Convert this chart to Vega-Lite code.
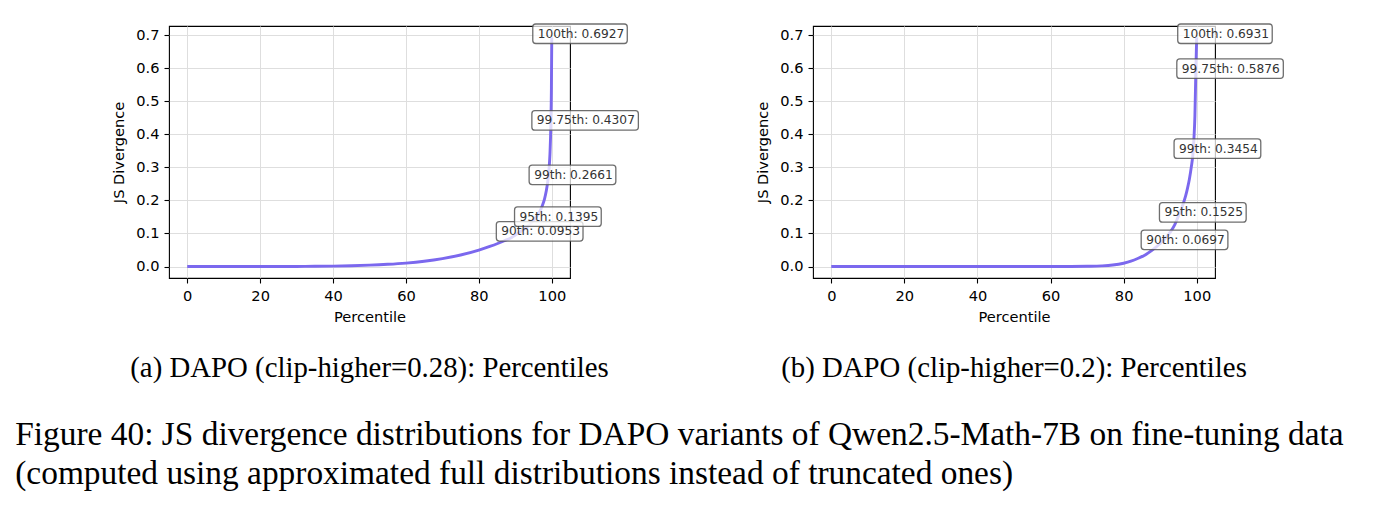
{
  "$schema": "https://vega.github.io/schema/vega-lite/v6.json",
  "background": "white",
  "padding": {"left": 15, "top": 20, "right": 5, "bottom": 5},
  "bounds": "flush",
  "spacing": 243,
  "datasets": {
    "curveA": [
      {"pct": 0, "js": 0}, {"pct": 5, "js": 0}, {"pct": 10, "js": 0}, {"pct": 15, "js": 0}, {"pct": 20, "js": 0},
      {"pct": 25, "js": 0.0001}, {"pct": 30, "js": 0.0003}, {"pct": 35, "js": 0.0007}, {"pct": 40, "js": 0.0013},
      {"pct": 45, "js": 0.0025}, {"pct": 50, "js": 0.0042}, {"pct": 55, "js": 0.0068}, {"pct": 60, "js": 0.0105},
      {"pct": 65, "js": 0.016}, {"pct": 70, "js": 0.024}, {"pct": 75, "js": 0.035}, {"pct": 80, "js": 0.05},
      {"pct": 83, "js": 0.061}, {"pct": 85, "js": 0.069}, {"pct": 87, "js": 0.078}, {"pct": 89, "js": 0.088},
      {"pct": 90, "js": 0.0953}, {"pct": 91, "js": 0.102}, {"pct": 92, "js": 0.11}, {"pct": 93, "js": 0.118},
      {"pct": 94, "js": 0.128}, {"pct": 95, "js": 0.1395}, {"pct": 96, "js": 0.154}, {"pct": 97, "js": 0.173},
      {"pct": 97.5, "js": 0.187}, {"pct": 98, "js": 0.204}, {"pct": 98.5, "js": 0.229}, {"pct": 99, "js": 0.2661},
      {"pct": 99.25, "js": 0.295}, {"pct": 99.5, "js": 0.34}, {"pct": 99.75, "js": 0.4307}, {"pct": 99.9, "js": 0.54},
      {"pct": 100, "js": 0.6927}
    ],
    "curveB": [
      {"pct": 0, "js": 0}, {"pct": 10, "js": 0}, {"pct": 20, "js": 0}, {"pct": 30, "js": 0}, {"pct": 40, "js": 0},
      {"pct": 50, "js": 0}, {"pct": 60, "js": 0}, {"pct": 65, "js": 0.0002}, {"pct": 70, "js": 0.0008},
      {"pct": 74, "js": 0.002}, {"pct": 77, "js": 0.0045}, {"pct": 80, "js": 0.01}, {"pct": 82, "js": 0.016},
      {"pct": 84, "js": 0.025}, {"pct": 86, "js": 0.036}, {"pct": 88, "js": 0.051}, {"pct": 90, "js": 0.0697},
      {"pct": 91, "js": 0.08}, {"pct": 92, "js": 0.093}, {"pct": 93, "js": 0.108}, {"pct": 94, "js": 0.127},
      {"pct": 95, "js": 0.1525}, {"pct": 96, "js": 0.18}, {"pct": 97, "js": 0.215}, {"pct": 97.5, "js": 0.238},
      {"pct": 98, "js": 0.265}, {"pct": 98.5, "js": 0.3}, {"pct": 99, "js": 0.3454}, {"pct": 99.25, "js": 0.39},
      {"pct": 99.5, "js": 0.455}, {"pct": 99.75, "js": 0.5876}, {"pct": 99.9, "js": 0.655}, {"pct": 100, "js": 0.6931}
    ],
    "annA": [
      {"pct": 90, "js": 0.0953, "tier": "90th", "label": "90th: 0.0953"},
      {"pct": 95, "js": 0.1395, "tier": "95th", "label": "95th: 0.1395"},
      {"pct": 99, "js": 0.2661, "tier": "99th", "label": "99th: 0.2661"},
      {"pct": 99.75, "js": 0.4307, "tier": "99.75th", "label": "99.75th: 0.4307"},
      {"pct": 100, "js": 0.6927, "tier": "100th", "label": "100th: 0.6927"}
    ],
    "annB": [
      {"pct": 90, "js": 0.0697, "tier": "90th", "label": "90th: 0.0697"},
      {"pct": 95, "js": 0.1525, "tier": "95th", "label": "95th: 0.1525"},
      {"pct": 99, "js": 0.3454, "tier": "99th", "label": "99th: 0.3454"},
      {"pct": 99.75, "js": 0.5876, "tier": "99.75th", "label": "99.75th: 0.5876"},
      {"pct": 100, "js": 0.6931, "tier": "100th", "label": "100th: 0.6931"}
    ]
  },
  "title": {
    "text": [
      "Figure 40: JS divergence distributions for DAPO variants of Qwen2.5-Math-7B on fine-tuning data",
      "(computed using approximated full distributions instead of truncated ones)"
    ],
    "orient": "bottom",
    "anchor": "start",
    "frame": "bounds",
    "dx": -96,
    "offset": 35,
    "font": "Liberation Serif",
    "fontSize": 33.4,
    "fontWeight": "normal",
    "color": "black",
    "lineHeight": 39
  },
  "hconcat": [
    {
      "width": 401,
      "height": 252,
      "title": {
        "text": "(a) DAPO (clip-higher=0.28): Percentiles",
        "orient": "bottom",
        "anchor": "middle",
        "offset": 30,
        "font": "Liberation Serif",
        "fontSize": 28.8,
        "fontWeight": "normal",
        "color": "black"
      },
      "layer": [
        {
          "data": {"name": "curveA"},
          "mark": {"type": "line", "color": "#7b68ee", "strokeWidth": 2.9, "interpolate": "monotone"},
          "encoding": {
            "x": {"field": "pct", "type": "quantitative",
              "scale": {"domain": [-5, 105], "nice": false, "zero": false},
              "axis": {"title": "Percentile", "values": [0, 20, 40, 60, 80, 100], "labelFlush": false, "labelOverlap": false, "titlePadding": 7}},
            "y": {"field": "js", "type": "quantitative",
              "scale": {"domain": [-0.0346, 0.7273], "nice": false, "zero": false},
              "axis": {"title": "JS Divergence", "values": [0, 0.1, 0.2, 0.3, 0.4, 0.5, 0.6, 0.7], "format": ".1f", "labelFlush": false, "labelOverlap": false, "titlePadding": 9}}
          }
        },
        {
          "data": {"name": "annA"},
          "mark": {"type": "point", "size": 40000, "filled": true, "fill": "white", "fillOpacity": 0.75, "stroke": "#555555", "strokeWidth": 1.3, "strokeOpacity": 0.85},
          "encoding": {
            "x": {"field": "pct", "type": "quantitative",
              "axis": {"title": "Percentile", "values": [0, 20, 40, 60, 80, 100], "labelFlush": false, "labelOverlap": false, "titlePadding": 7}},
            "y": {"field": "js", "type": "quantitative",
              "axis": {"title": "JS Divergence", "values": [0, 0.1, 0.2, 0.3, 0.4, 0.5, 0.6, 0.7], "format": ".1f", "labelFlush": false, "labelOverlap": false, "titlePadding": 9}},
            "shape": {"field": "tier", "type": "nominal", "legend": null,
              "scale": {"domain": ["100th", "99.75th", "99th", "95th", "90th"],
                "range": [
                  "M -0.16 -0.1345 L 0.725 -0.1345 Q 0.755 -0.1345 0.755 -0.1045 L 0.755 0.0305 Q 0.755 0.0605 0.725 0.0605 L -0.16 0.0605 Q -0.19 0.0605 -0.19 0.0305 L -0.19 -0.1045 Q -0.19 -0.1345 -0.16 -0.1345 Z",
                  "M -0.16 -0.1345 L 0.845 -0.1345 Q 0.875 -0.1345 0.875 -0.1045 L 0.875 0.0305 Q 0.875 0.0605 0.845 0.0605 L -0.16 0.0605 Q -0.19 0.0605 -0.19 0.0305 L -0.19 -0.1045 Q -0.19 -0.1345 -0.16 -0.1345 Z",
                  "M -0.16 -0.1345 L 0.647 -0.1345 Q 0.677 -0.1345 0.677 -0.1045 L 0.677 0.0305 Q 0.677 0.0605 0.647 0.0605 L -0.16 0.0605 Q -0.19 0.0605 -0.19 0.0305 L -0.19 -0.1045 Q -0.19 -0.1345 -0.16 -0.1345 Z",
                  "M -0.16 -0.1345 L 0.647 -0.1345 Q 0.677 -0.1345 0.677 -0.1045 L 0.677 0.0305 Q 0.677 0.0605 0.647 0.0605 L -0.16 0.0605 Q -0.19 0.0605 -0.19 0.0305 L -0.19 -0.1045 Q -0.19 -0.1345 -0.16 -0.1345 Z",
                  "M -0.16 -0.1345 L 0.647 -0.1345 Q 0.677 -0.1345 0.677 -0.1045 L 0.677 0.0305 Q 0.677 0.0605 0.647 0.0605 L -0.16 0.0605 Q -0.19 0.0605 -0.19 0.0305 L -0.19 -0.1045 Q -0.19 -0.1345 -0.16 -0.1345 Z"
                ]}}
          }
        },
        {
          "data": {"name": "annA"},
          "mark": {"type": "text", "align": "left", "baseline": "middle", "dx": -14, "dy": -3.7, "font": "DejaVu Sans", "fontSize": 12.2, "color": "#333333"},
          "encoding": {
            "x": {"field": "pct", "type": "quantitative",
              "axis": {"title": "Percentile", "values": [0, 20, 40, 60, 80, 100], "labelFlush": false, "labelOverlap": false, "titlePadding": 7}},
            "y": {"field": "js", "type": "quantitative",
              "axis": {"title": "JS Divergence", "values": [0, 0.1, 0.2, 0.3, 0.4, 0.5, 0.6, 0.7], "format": ".1f", "labelFlush": false, "labelOverlap": false, "titlePadding": 9}},
            "text": {"field": "label", "type": "nominal"}
          }
        }
      ]
    },
    {
      "width": 402,
      "height": 252,
      "title": {
        "text": "(b) DAPO (clip-higher=0.2): Percentiles",
        "orient": "bottom",
        "anchor": "middle",
        "offset": 30,
        "font": "Liberation Serif",
        "fontSize": 28.8,
        "fontWeight": "normal",
        "color": "black"
      },
      "layer": [
        {
          "data": {"name": "curveB"},
          "mark": {"type": "line", "color": "#7b68ee", "strokeWidth": 2.9, "interpolate": "monotone"},
          "encoding": {
            "x": {"field": "pct", "type": "quantitative",
              "scale": {"domain": [-5, 105], "nice": false, "zero": false},
              "axis": {"title": "Percentile", "values": [0, 20, 40, 60, 80, 100], "labelFlush": false, "labelOverlap": false, "titlePadding": 7}},
            "y": {"field": "js", "type": "quantitative",
              "scale": {"domain": [-0.0347, 0.7278], "nice": false, "zero": false},
              "axis": {"title": "JS Divergence", "values": [0, 0.1, 0.2, 0.3, 0.4, 0.5, 0.6, 0.7], "format": ".1f", "labelFlush": false, "labelOverlap": false, "titlePadding": 9}}
          }
        },
        {
          "data": {"name": "annB"},
          "mark": {"type": "point", "size": 40000, "filled": true, "fill": "white", "fillOpacity": 0.75, "stroke": "#555555", "strokeWidth": 1.3, "strokeOpacity": 0.85},
          "encoding": {
            "x": {"field": "pct", "type": "quantitative",
              "axis": {"title": "Percentile", "values": [0, 20, 40, 60, 80, 100], "labelFlush": false, "labelOverlap": false, "titlePadding": 7}},
            "y": {"field": "js", "type": "quantitative",
              "axis": {"title": "JS Divergence", "values": [0, 0.1, 0.2, 0.3, 0.4, 0.5, 0.6, 0.7], "format": ".1f", "labelFlush": false, "labelOverlap": false, "titlePadding": 9}},
            "shape": {"field": "tier", "type": "nominal", "legend": null,
              "scale": {"domain": ["100th", "99.75th", "99th", "95th", "90th"],
                "range": [
                  "M -0.16 -0.1345 L 0.725 -0.1345 Q 0.755 -0.1345 0.755 -0.1045 L 0.755 0.0305 Q 0.755 0.0605 0.725 0.0605 L -0.16 0.0605 Q -0.19 0.0605 -0.19 0.0305 L -0.19 -0.1045 Q -0.19 -0.1345 -0.16 -0.1345 Z",
                  "M -0.16 -0.1345 L 0.845 -0.1345 Q 0.875 -0.1345 0.875 -0.1045 L 0.875 0.0305 Q 0.875 0.0605 0.845 0.0605 L -0.16 0.0605 Q -0.19 0.0605 -0.19 0.0305 L -0.19 -0.1045 Q -0.19 -0.1345 -0.16 -0.1345 Z",
                  "M -0.16 -0.1345 L 0.647 -0.1345 Q 0.677 -0.1345 0.677 -0.1045 L 0.677 0.0305 Q 0.677 0.0605 0.647 0.0605 L -0.16 0.0605 Q -0.19 0.0605 -0.19 0.0305 L -0.19 -0.1045 Q -0.19 -0.1345 -0.16 -0.1345 Z",
                  "M -0.16 -0.1345 L 0.647 -0.1345 Q 0.677 -0.1345 0.677 -0.1045 L 0.677 0.0305 Q 0.677 0.0605 0.647 0.0605 L -0.16 0.0605 Q -0.19 0.0605 -0.19 0.0305 L -0.19 -0.1045 Q -0.19 -0.1345 -0.16 -0.1345 Z",
                  "M -0.16 -0.1345 L 0.647 -0.1345 Q 0.677 -0.1345 0.677 -0.1045 L 0.677 0.0305 Q 0.677 0.0605 0.647 0.0605 L -0.16 0.0605 Q -0.19 0.0605 -0.19 0.0305 L -0.19 -0.1045 Q -0.19 -0.1345 -0.16 -0.1345 Z"
                ]}}
          }
        },
        {
          "data": {"name": "annB"},
          "mark": {"type": "text", "align": "left", "baseline": "middle", "dx": -14, "dy": -3.7, "font": "DejaVu Sans", "fontSize": 12.2, "color": "#333333"},
          "encoding": {
            "x": {"field": "pct", "type": "quantitative",
              "axis": {"title": "Percentile", "values": [0, 20, 40, 60, 80, 100], "labelFlush": false, "labelOverlap": false, "titlePadding": 7}},
            "y": {"field": "js", "type": "quantitative",
              "axis": {"title": "JS Divergence", "values": [0, 0.1, 0.2, 0.3, 0.4, 0.5, 0.6, 0.7], "format": ".1f", "labelFlush": false, "labelOverlap": false, "titlePadding": 9}},
            "text": {"field": "label", "type": "nominal"}
          }
        }
      ]
    }
  ],
  "config": {
    "font": "DejaVu Sans",
    "view": {"stroke": "black", "strokeWidth": 1.1},
    "axis": {
      "domain": false,
      "grid": true,
      "gridColor": "#dedede",
      "gridWidth": 1,
      "tickColor": "black",
      "tickSize": 5,
      "tickWidth": 1.1,
      "labelFont": "DejaVu Sans",
      "labelFontSize": 14.6,
      "labelColor": "black",
      "labelPadding": 5,
      "labelOverlap": false,
      "titleFont": "DejaVu Sans",
      "titleFontSize": 14.6,
      "titleFontWeight": "normal",
      "titleColor": "black"
    }
  }
}
